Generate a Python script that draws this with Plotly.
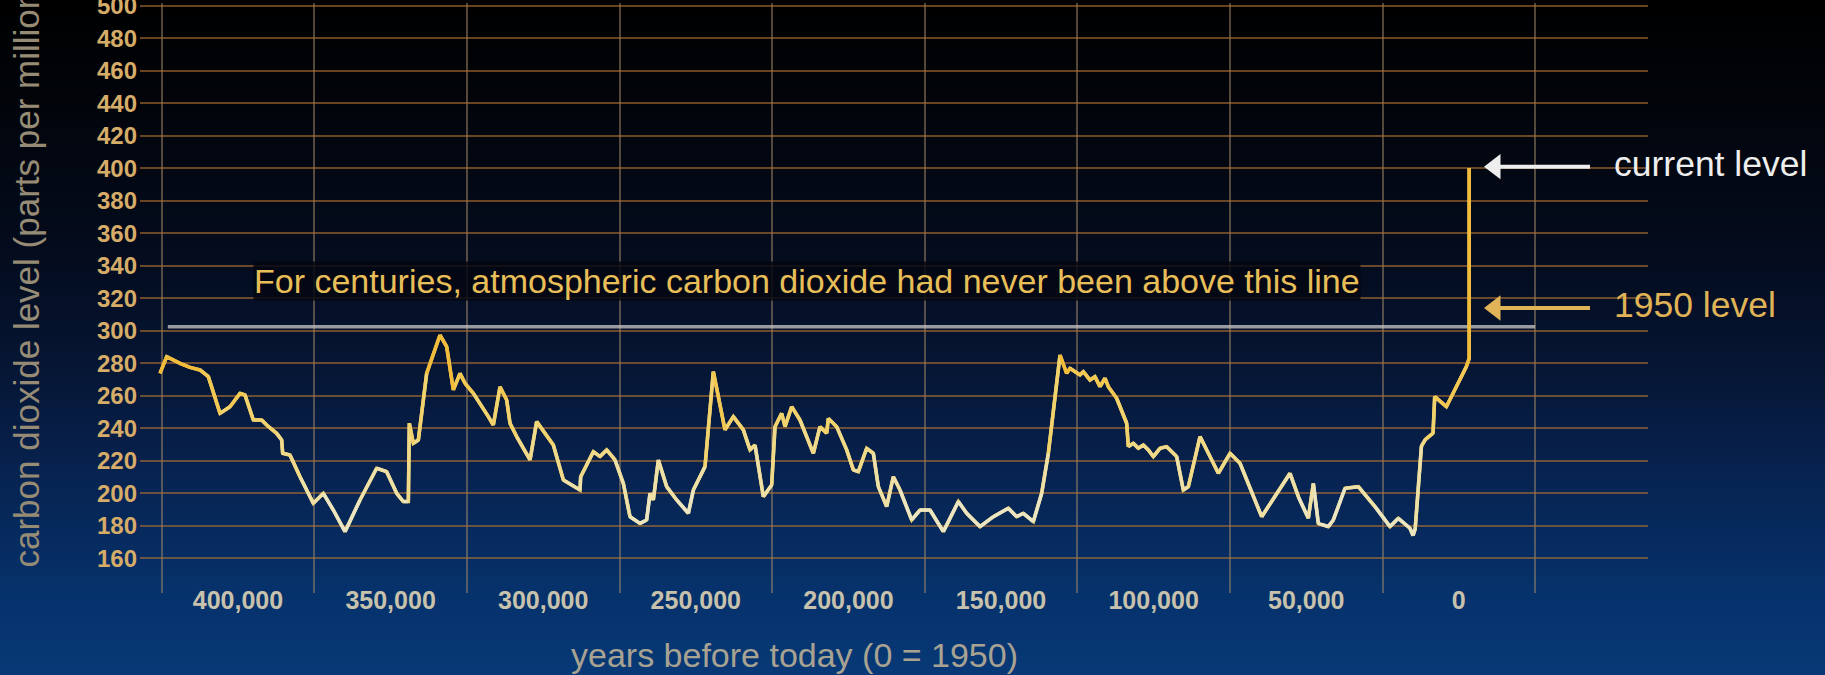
import plotly.graph_objects as go

# ---------------- data ----------------
years_bp = [425557, 423373, 419004, 415728, 412451, 409720, 405898, 402621, 399345, 397706,
            394976, 392245, 390607, 387331, 385692, 385365, 382961, 379684, 375316, 372039,
            368762, 364940, 360025, 354564, 351287, 348010, 345826, 344188, 343860, 342550,
            340911, 338181, 333812, 331627, 329443, 327259, 325620, 322890, 317975, 316337,
            314152, 311968, 310876, 308691, 304322, 302138, 296677, 293400, 287939, 287721,
            283571, 281387, 279202, 276476, 273746, 271561, 268285, 266100, 265008, 263916,
            262277, 259547, 256270, 252448, 250809, 249171, 246987, 244256, 240434, 237703,
            234427, 232242, 230604, 227873, 225143, 224051, 221866, 220774, 218589, 215859,
            211490, 209306, 207121, 206575, 203844, 200568, 198383, 196745, 194015, 191830,
            190192, 187461, 185277, 183093, 179270, 176540, 173263, 168894, 163979, 161249,
            156880, 152511, 147596, 144866, 142681, 139405, 136674, 134490, 130667, 128487,
            127395, 124118, 123026, 120842, 119204, 117565, 115927, 114836, 112105, 108829,
            108282, 106644, 105005, 103367, 101729, 100090, 97906, 95721, 92445, 90260,
            88622, 84799, 78792, 74969, 71693, 64593, 55310, 52579, 49303, 47665,
            46026, 42750, 41111, 37289, 32920, 27459, 22544, 19813, 15991, 15000,
            14300, 12250, 11000, 8450, 7900, 4070, -2480, -3400, -3400]
co2_ppm = [273.8, 284.1, 280.0, 277.5, 275.9, 271.8, 249.2, 253.3, 261.5, 260.5,
           245.1, 245.1, 242.0, 236.9, 232.8, 224.6, 223.6, 210.2, 193.8, 200.0,
           189.7, 176.4, 195.9, 215.4, 213.3, 200.0, 194.9, 194.9, 243.1, 230.8,
           232.8, 273.8, 297.4, 290.2, 263.6, 273.8, 267.7, 261.5, 247.2, 242.0,
           265.6, 257.4, 243.1, 234.9, 220.5, 244.1, 229.7, 208.2, 202.0, 210.2,
           225.6, 222.6, 226.7, 220.5, 206.1, 185.6, 181.5, 183.6, 200.0, 195.9,
           220.5, 204.1, 195.9, 187.7, 202.0, 208.2, 216.4, 274.9, 239.0, 247.2,
           239.0, 226.7, 229.7, 197.9, 205.1, 241.0, 249.2, 241.0, 253.3, 245.1,
           224.6, 241.0, 236.9, 246.1, 241.0, 226.7, 214.4, 213.3, 227.7, 224.6,
           204.1, 191.8, 210.2, 202.0, 183.6, 189.7, 189.7, 176.4, 194.9, 187.7,
           179.5, 185.6, 190.8, 185.6, 187.7, 182.6, 200.0, 224.6, 285.1, 273.8,
           276.9, 272.8, 274.9, 269.7, 271.8, 265.6, 270.8, 265.6, 258.5, 243.1,
           228.7, 230.8, 227.7, 229.7, 226.7, 222.6, 227.7, 228.7, 222.6, 202.0,
           204.1, 234.9, 212.3, 224.6, 218.5, 185.6, 212.3, 197.9, 184.6, 206.1,
           181.5, 179.5, 183.6, 203.1, 204.1, 191.8, 179.5, 184.6, 178.5, 174.0,
           178.0, 229.0, 233.0, 237.0, 259.5, 253.3, 278.0, 283.0, 400.0]

threshold_years = [423000, -25000]
threshold_ppm = [302.5, 302.5]

y_ticks = list(range(160, 501, 20))
x_ticks = [400000, 350000, 300000, 250000, 200000, 150000, 100000, 50000, 0]
x_ticklabels = ["400,000", "350,000", "300,000", "250,000", "200,000",
                "150,000", "100,000", "50,000", "0"]
x_gridlines = [425000, 375000, 325000, 275000, 225000, 175000, 125000, 75000, 25000, -25000]

callout_levels = [401, 314]
callout_labels = ["current level", "1950 level"]
callout_colors = ["rgb(238,238,238)", "rgb(224,180,86)"]

# ---------------- layout geometry ----------------
W, H = 1825, 675
ML, MR, MT, MB = 140, 177, 3, 82
PW, PH = W - ML - MR, H - MT - MB
X_RANGE = [432110, -61986]
Y_RANGE = [138.65, 501.7]

# pixel positions of the side call-outs (arrow tip, arrow tail, label start)
ARROW_TIP_PX, ARROW_TAIL_PX, LABEL_PX, HEAD_PX = 1484, 1590, 1614, 22


def px_to_paper_y(p):
    return (H - MB - p) / PH


def px_to_paper_x(q):
    return (q - ML) / PW


def px_to_year(q):
    return X_RANGE[0] + (X_RANGE[1] - X_RANGE[0]) * px_to_paper_x(q)


# background gradient (black top -> deep blue bottom)
stops = [(0, (0, 0, 0)), (120, (2, 5, 12)), (260, (4, 12, 30)), (360, (6, 21, 50)),
         (460, (7, 33, 76)), (560, (6, 46, 100)), (620, (6, 52, 112)), (675, (8, 57, 118))]


def grad(p):
    for (p0, c0), (p1, c1) in zip(stops[:-1], stops[1:]):
        if p0 <= p <= p1:
            t = (p - p0) / (p1 - p0)
            return tuple(round(a + (b - a) * t) for a, b in zip(c0, c1))
    return stops[-1][1]


shapes = []
step = 8
for p in range(0, H, step):
    c = grad(p + step / 2)
    shapes.append(dict(type="rect", xref="paper", yref="paper", layer="below",
                       x0=px_to_paper_x(-5), x1=px_to_paper_x(W + 5),
                       y0=px_to_paper_y(p + step + 0.5), y1=px_to_paper_y(p - 0.5),
                       fillcolor="rgb(%d,%d,%d)" % c, line=dict(width=0)))

fig = go.Figure()

# threshold line
fig.add_trace(go.Scatter(x=threshold_years, y=threshold_ppm, mode="lines",
                         line=dict(color="rgba(200,200,200,0.75)", width=3.5),
                         hoverinfo="skip", showlegend=False))

# base CO2 line
fig.add_trace(go.Scatter(x=years_bp, y=co2_ppm, mode="lines",
                         line=dict(color="#f1d670", width=3.5),
                         hoverinfo="skip", showlegend=False))

# colour bands along the line (pale at low values, gold at high values)
band_edges = [0, 195, 215, 235, 255, 275, 1000]
band_colors = ["#ece5c2", "#eee0a6", "#f0da8a", "#f2d26c", "#f3c852", "#f2bc3a"]
for bi in range(len(band_colors)):
    bx, by = [], []
    for i in range(len(years_bp) - 1):
        mid = (co2_ppm[i] + co2_ppm[i + 1]) / 2
        if band_edges[bi] <= mid < band_edges[bi + 1]:
            bx += [years_bp[i], years_bp[i + 1], None]
            by += [co2_ppm[i], co2_ppm[i + 1], None]
    fig.add_trace(go.Scatter(x=bx, y=by, mode="lines",
                             line=dict(color=band_colors[bi], width=3.5),
                             connectgaps=False, hoverinfo="skip", showlegend=False))

FONT = "Liberation Sans, Arial, sans-serif"

# call-out arrows and labels, drawn as traces
head_center = px_to_year(ARROW_TIP_PX + HEAD_PX / 2)
for lvl, lbl, col in zip(callout_levels, callout_labels, callout_colors):
    fig.add_trace(go.Scatter(x=[px_to_year(ARROW_TAIL_PX), head_center], y=[lvl, lvl],
                             mode="lines", line=dict(color=col, width=4),
                             cliponaxis=False, hoverinfo="skip", showlegend=False))
    fig.add_trace(go.Scatter(x=[head_center], y=[lvl], mode="markers",
                             marker=dict(symbol="triangle-left", size=HEAD_PX, color=col,
                                         line=dict(width=0)),
                             cliponaxis=False, hoverinfo="skip", showlegend=False))
    fig.add_trace(go.Scatter(x=[px_to_year(LABEL_PX)], y=[lvl], mode="text", text=[lbl],
                             textposition="middle right",
                             textfont=dict(family=FONT, size=35.5, color=col),
                             cliponaxis=False, hoverinfo="skip", showlegend=False))

annotations = [
    dict(x=395000, y=330.5, xref="x", yref="y", xanchor="left", yanchor="middle",
         text="For centuries, atmospheric carbon dioxide had never been above this line",
         showarrow=False, bgcolor="rgba(3,7,18,0.85)", borderpad=0,
         font=dict(family=FONT, size=34, color="rgb(232,190,88)")),
    dict(x=px_to_paper_x(26), y=152.8, xref="paper", yref="y", xanchor="center", yanchor="bottom",
         text="carbon dioxide level (parts per million)", textangle=-90, showarrow=False,
         font=dict(family=FONT, size=35, color="rgb(150,140,118)")),
    dict(x=px_to_paper_x(794), y=px_to_paper_y(655), xref="paper", yref="paper",
         xanchor="center", yanchor="middle",
         text="years before today (0 = 1950)", showarrow=False,
         font=dict(family=FONT, size=34, color="rgb(168,162,146)")),
]

fig.update_layout(
    width=W, height=H,
    margin=dict(l=ML, r=MR, t=MT, b=MB, pad=0),
    paper_bgcolor="black", plot_bgcolor="rgba(0,0,0,0)",
    shapes=shapes, annotations=annotations, showlegend=False,
    font=dict(family=FONT),
    xaxis=dict(range=X_RANGE, tickmode="array", tickvals=x_ticks, ticktext=x_ticklabels,
               showgrid=False, zeroline=False, showline=False, ticks="", automargin=False,
               ticklabelstandoff=-10, ticklabeloverflow="allow",
               tickfont=dict(size=25, color="rgb(200,194,172)", weight="bold"),
               minor=dict(tickmode="array", tickvals=x_gridlines, showgrid=True,
                          gridcolor="rgba(165,140,105,0.5)", gridwidth=2, ticks="")),
    yaxis=dict(range=Y_RANGE, tickmode="array", tickvals=y_ticks,
               showgrid=True, gridcolor="rgba(175,112,48,0.6)", gridwidth=2,
               zeroline=False, showline=False, ticks="", ticklabelstandoff=2,
               ticklabeloverflow="allow", automargin=False,
               tickfont=dict(size=24, color="rgb(214,172,105)", weight="bold")),
)

fig.write_html("out.html",
               config={"displayModeBar": False},
               post_script="document.body.style.margin='0px';"
                           "document.body.style.padding='0px';"
                           "document.body.style.overflow='hidden';"
                           "document.body.style.background='black';")
